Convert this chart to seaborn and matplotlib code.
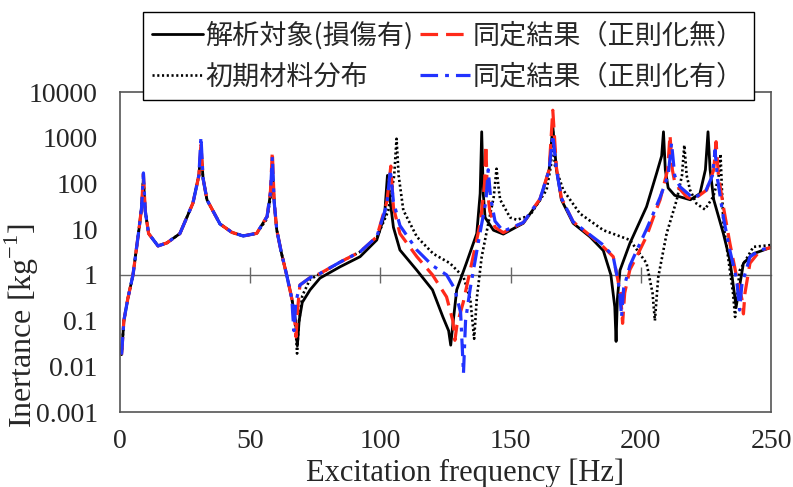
import numpy as np
import pandas as pd
import seaborn as sns
import matplotlib.pyplot as plt

sns.set_theme(style="white")
plt.rcParams["font.family"] = ["Liberation Serif", "DejaVu Serif"]
plt.rcParams["mathtext.fontset"] = "custom"
plt.rcParams["mathtext.rm"] = "Liberation Serif"

# 解析対象(損傷有) - black solid
f_target = [0.6, 1.5, 3, 5, 7.3, 8.3, 9.0, 9.7, 11, 14.6, 18, 23, 28, 30.3, 31.1, 31.9, 33.4, 38.4,
            43, 47.3, 52.5, 56.5, 57.8, 58.5, 59.2, 60.2, 62, 64, 66, 67.4, 68.1, 68.8, 70, 73, 76.8,
            84.5, 92.2, 98.6, 101.6, 102.7, 103.7, 105, 107.5, 114, 120, 124, 126.2, 127, 127.8,
            129.3, 133, 137, 138.3, 138.9, 139.5, 140.2, 143.4, 147.2, 154.9, 161.3, 164.8, 166.2,
            167.6, 169.5, 174, 180.5, 185.6, 188.5, 190, 190.5, 191, 192, 195.8, 202.2, 206.1, 208.0,
            208.7, 209.4, 210.5, 213, 219, 222.7, 224.8, 225.8, 226.6, 228, 231.7, 234.2, 236.6,
            239.4, 243.2, 250]
v_target = [0.018, 0.1, 0.3, 1, 10, 30, 130, 25, 8, 4.3, 5, 8, 37, 150, 600, 130, 44, 13,
            8.5, 7.1, 8.1, 19, 60, 250, 40, 9.6, 3, 1, 0.3, 0.1, 0.028, 0.1, 0.25, 0.47, 0.85,
            1.5, 2.5, 5.8, 20, 150, 44, 11, 3.5, 1.26, 0.47, 0.12, 0.06, 0.029, 0.08,
            0.47, 1.8, 8, 60, 1350, 60, 18, 9.5, 7.8, 13.5, 44, 200, 1800,
            200, 44, 13.5, 6.8, 3.4, 1, 0.2, 0.035, 0.3, 1.26, 4.9, 31, 170, 400,
            1350, 200, 80, 55, 44, 60, 200, 1350, 200, 44, 8, 2.1, 0.2,
            1.8, 2.9, 4]

# 初期材料分布 - black dotted
f_initial = [0.6, 1.5, 3, 5, 7.3, 8.3, 9.0, 9.7, 11, 14.6, 18, 23, 28, 30.3, 31.1, 31.9, 33.4, 38.4,
             43, 47.3, 52.5, 56.5, 57.8, 58.5, 59.2, 60.2, 62, 64, 66, 67.4, 68.0, 68.6, 70, 73,
             76.8, 84.5, 92.2, 98.6, 103, 105.3, 106.2, 107, 108.8, 114, 120.3, 126.7, 131.9, 134.5,
             136, 137, 138.9, 141.4, 143.5, 144.6, 145.5, 146, 149.8, 152.4, 157.4, 163.8, 165.5,
             166.2, 167, 170.2, 176.6, 185.6, 195.8, 202.2, 204.5, 205.4, 206.2, 206.7, 209.9, 213.8,
             215.8, 216.7, 217.6, 218.9, 221.4, 224.6, 227.8, 229.8, 230.6, 231.2, 231.7, 234.2,
             235.4, 236.2, 237, 238, 243.2, 250]
v_initial = [0.018, 0.1, 0.3, 1, 10, 30, 140, 25, 8, 4.3, 5, 8, 37, 150, 500, 130, 44, 13,
             8.5, 7.1, 8.1, 17, 50, 200, 40, 9.6, 3, 1, 0.3, 0.08, 0.019, 0.08, 0.35, 0.8,
             1.05, 1.9, 3.2, 6.5, 25, 150, 950, 150, 26, 6.8, 2.9, 1.8, 0.9, 0.3,
             0.04, 0.3, 2.5, 13, 50, 210, 70, 44, 18, 16, 20, 72, 250,
             1500, 250, 72, 22, 9.5, 5.8, 1.8, 0.4, 0.1, 0.4, 0.9, 8, 44,
             150, 690, 150, 72, 36, 27, 51, 130, 440, 60, 13.5, 1.26,
             0.4, 0.12, 0.4, 1.26, 4.1, 4.5]

# 同定結果（正則化無） - red dashed
f_noreg = [0.6, 1.5, 3, 5, 7.3, 8.3, 9.0, 9.7, 11, 14.6, 18, 23, 28, 30.3, 31.1, 31.9, 33.4, 38.4,
           43, 47.3, 52.5, 56.5, 57.8, 58.5, 59.2, 60.2, 62, 64, 66, 67.0, 67.6, 68.3, 69.1, 73,
           76.8, 84.5, 92.2, 98.6, 102.5, 104.0, 105.0, 107.5, 114, 120, 125.4, 127.8, 128.6,
           129.4, 131.8, 135.6, 138.5, 140.0, 140.5, 141.0, 142, 144, 147.2, 154.9, 161.3, 164.8,
           166.2, 167.6, 169.5, 174, 180.5, 185.6, 189.4, 192.2, 193, 193.8, 195.8, 198.4, 202.2,
           204.8, 207.4, 210.3, 211.2, 212.1, 213.1, 217.6, 220.2, 225.3, 228.0, 228.9, 229.8,
           231.7, 234.2, 236.8, 238.8, 239.4, 240.0, 241.9, 245.8, 250]
v_noreg = [0.018, 0.1, 0.3, 1, 10, 30, 160, 25, 8, 4.3, 5, 8, 37, 150, 700, 130, 44, 13,
           8.5, 7.1, 8.1, 19, 70, 500, 40, 9.6, 3, 1, 0.3, 0.12, 0.044, 0.2, 0.6, 0.87,
           1.07, 1.9, 3.2, 6.8, 40, 240, 30, 8, 2.5, 1.0, 0.33, 0.1, 0.037,
           0.08, 0.25, 2.5, 15, 100, 690, 80, 25, 11, 8.4, 14, 46, 200,
           4000, 220, 48, 14.5, 7.3, 4.1, 2.5, 0.4, 0.087, 0.4, 1.3, 2.5, 7,
           18, 44, 200, 1150, 200, 100, 51, 44, 72, 200, 820, 150,
           31, 4.9, 0.9, 0.3, 0.14, 0.4, 1.8, 3.4, 4]

# 同定結果（正則化有） - blue dash-dot
f_reg = [0.6, 1.5, 3, 5, 7.3, 8.3, 9.0, 9.7, 11, 14.6, 18, 23, 28, 30.3, 31.1, 31.9, 33.4, 38.4,
         43, 47.3, 52.5, 56.5, 57.8, 58.5, 59.2, 60.2, 62, 64, 66, 66.3, 66.8, 67.5, 69.1, 73,
         76.8, 84.5, 92.2, 98.6, 102.5, 103.8, 105, 107.5, 114, 120, 125.4, 128.5, 130.8, 131.9,
         132.7, 134.4, 138.2, 140.5, 141.4, 142.3, 144, 147.2, 154.9, 161.3, 164.8, 166.2, 167.6,
         169.5, 174, 180.5, 185.6, 189.4, 191.8, 192.6, 193.4, 195.8, 198.4, 202.2, 204.8, 207.4,
         210.5, 211.8, 213, 215, 220.2, 225, 227.5, 228.5, 229.5, 231.7, 234.2, 236.8, 237.9,
         238.8, 241.9, 245.8, 250]
v_reg = [0.018, 0.1, 0.3, 1, 10, 30, 170, 25, 8, 4.3, 5, 8, 37, 150, 1050, 130, 44, 13,
         8.5, 7.1, 8.1, 19, 65, 380, 40, 9.6, 3, 1, 0.3, 0.15, 0.06, 0.25, 0.6, 0.87,
         1.07, 1.9, 3.2, 6.8, 35, 200, 40, 12, 3.5, 1.6, 1.0, 0.5, 0.15, 0.007,
         0.1, 0.47, 8, 40, 200, 50, 15, 9, 14, 46, 200, 1150, 200,
         48, 14.5, 7.5, 4.5, 2.5, 0.5, 0.12, 0.5, 1.6, 3.4, 10, 22, 50,
         150, 770, 150, 85, 47, 70, 150, 530, 120, 18, 3.4, 0.8, 0.17,
         0.6, 2.5, 3.5, 4]

labels = ["解析対象(損傷有)", "初期材料分布", "同定結果（正則化無）", "同定結果（正則化有）"]
y_ticks = [0.001, 0.01, 0.1, 1, 10, 100, 1000, 10000]
y_tick_labels = ["0.001", "0.01", "0.1", "1", "10", "100", "1000", "10000"]
x_ticks = [0, 50, 100, 150, 200, 250]

fig = plt.figure(figsize=(7.93, 4.87), dpi=100)
ax = fig.add_axes([0.1513, 0.154, 0.821, 0.657])

styles = [
    dict(color="black", lw=2.0, ls="-"),
    dict(color="black", lw=1.9, ls=(0, (0.8, 1.0))),
    dict(color="#ff2a1a", lw=2.3, ls=(0, (5.5, 2.5))),
    dict(color="#2233ff", lw=2.3, ls=(0, (5.5, 2.2, 1.2, 2.2))),
]
series = [(f_target, v_target), (f_initial, v_initial), (f_noreg, v_noreg), (f_reg, v_reg)]
for (f, v), lab, st in zip(series, labels, styles):
    df = pd.DataFrame({"freq": f, "inertance": v})
    sns.lineplot(data=df, x="freq", y="inertance", ax=ax, label=lab, estimator=None,
                 sort=False, **st)

ax.set_yscale("log")
ax.set_xlim(0, 250)
ax.set_ylim(0.001, 10000)
ax.set_yticks(y_ticks)
ax.set_yticklabels(y_tick_labels)
ax.minorticks_off()
ax.set_xticks(x_ticks)
ax.tick_params(axis="y", direction="in", length=6, width=1, labelsize=20, color="#444444", pad=16)
ax.tick_params(axis="x", length=0, labelsize=20, pad=12)
for sp in ax.spines.values():
    sp.set_color("#555555")
    sp.set_linewidth(1.2)

# axis line crossing at inertance = 1 with its own tick marks
sec = ax.secondary_xaxis(3 / 7)
sec.set_xticks(x_ticks[1:-1])
sec.tick_params(direction="inout", length=11, width=1, color="#666666", labelbottom=False)
sec.spines["bottom"].set_color("#666666")
sec.spines["bottom"].set_linewidth(1.0)

ax.set_xlabel("Excitation frequency [Hz]", fontsize=22)
ax.xaxis.set_label_coords(0.53, -0.145)
ax.set_ylabel(r"Inertance [kg$^{\mathregular{-1}}$]", fontsize=23)
ax.yaxis.set_label_coords(-0.122, 0.27)

leg = ax.legend(loc="upper left", bbox_to_anchor=(143 / 793, 1 - 12 / 487),
                bbox_transform=fig.transFigure, ncol=2, frameon=True, fancybox=False,
                framealpha=1, edgecolor="black", handlelength=1.85, handletextpad=0.1,
                columnspacing=0.25, labelspacing=0.5, borderpad=0.35, borderaxespad=0,
                prop={"family": ["Noto Sans CJK JP", "DejaVu Sans"], "size": 19.5})
leg.get_frame().set_linewidth(1.0)
leg.set_zorder(10)

fig.savefig("out.png", dpi=100)
